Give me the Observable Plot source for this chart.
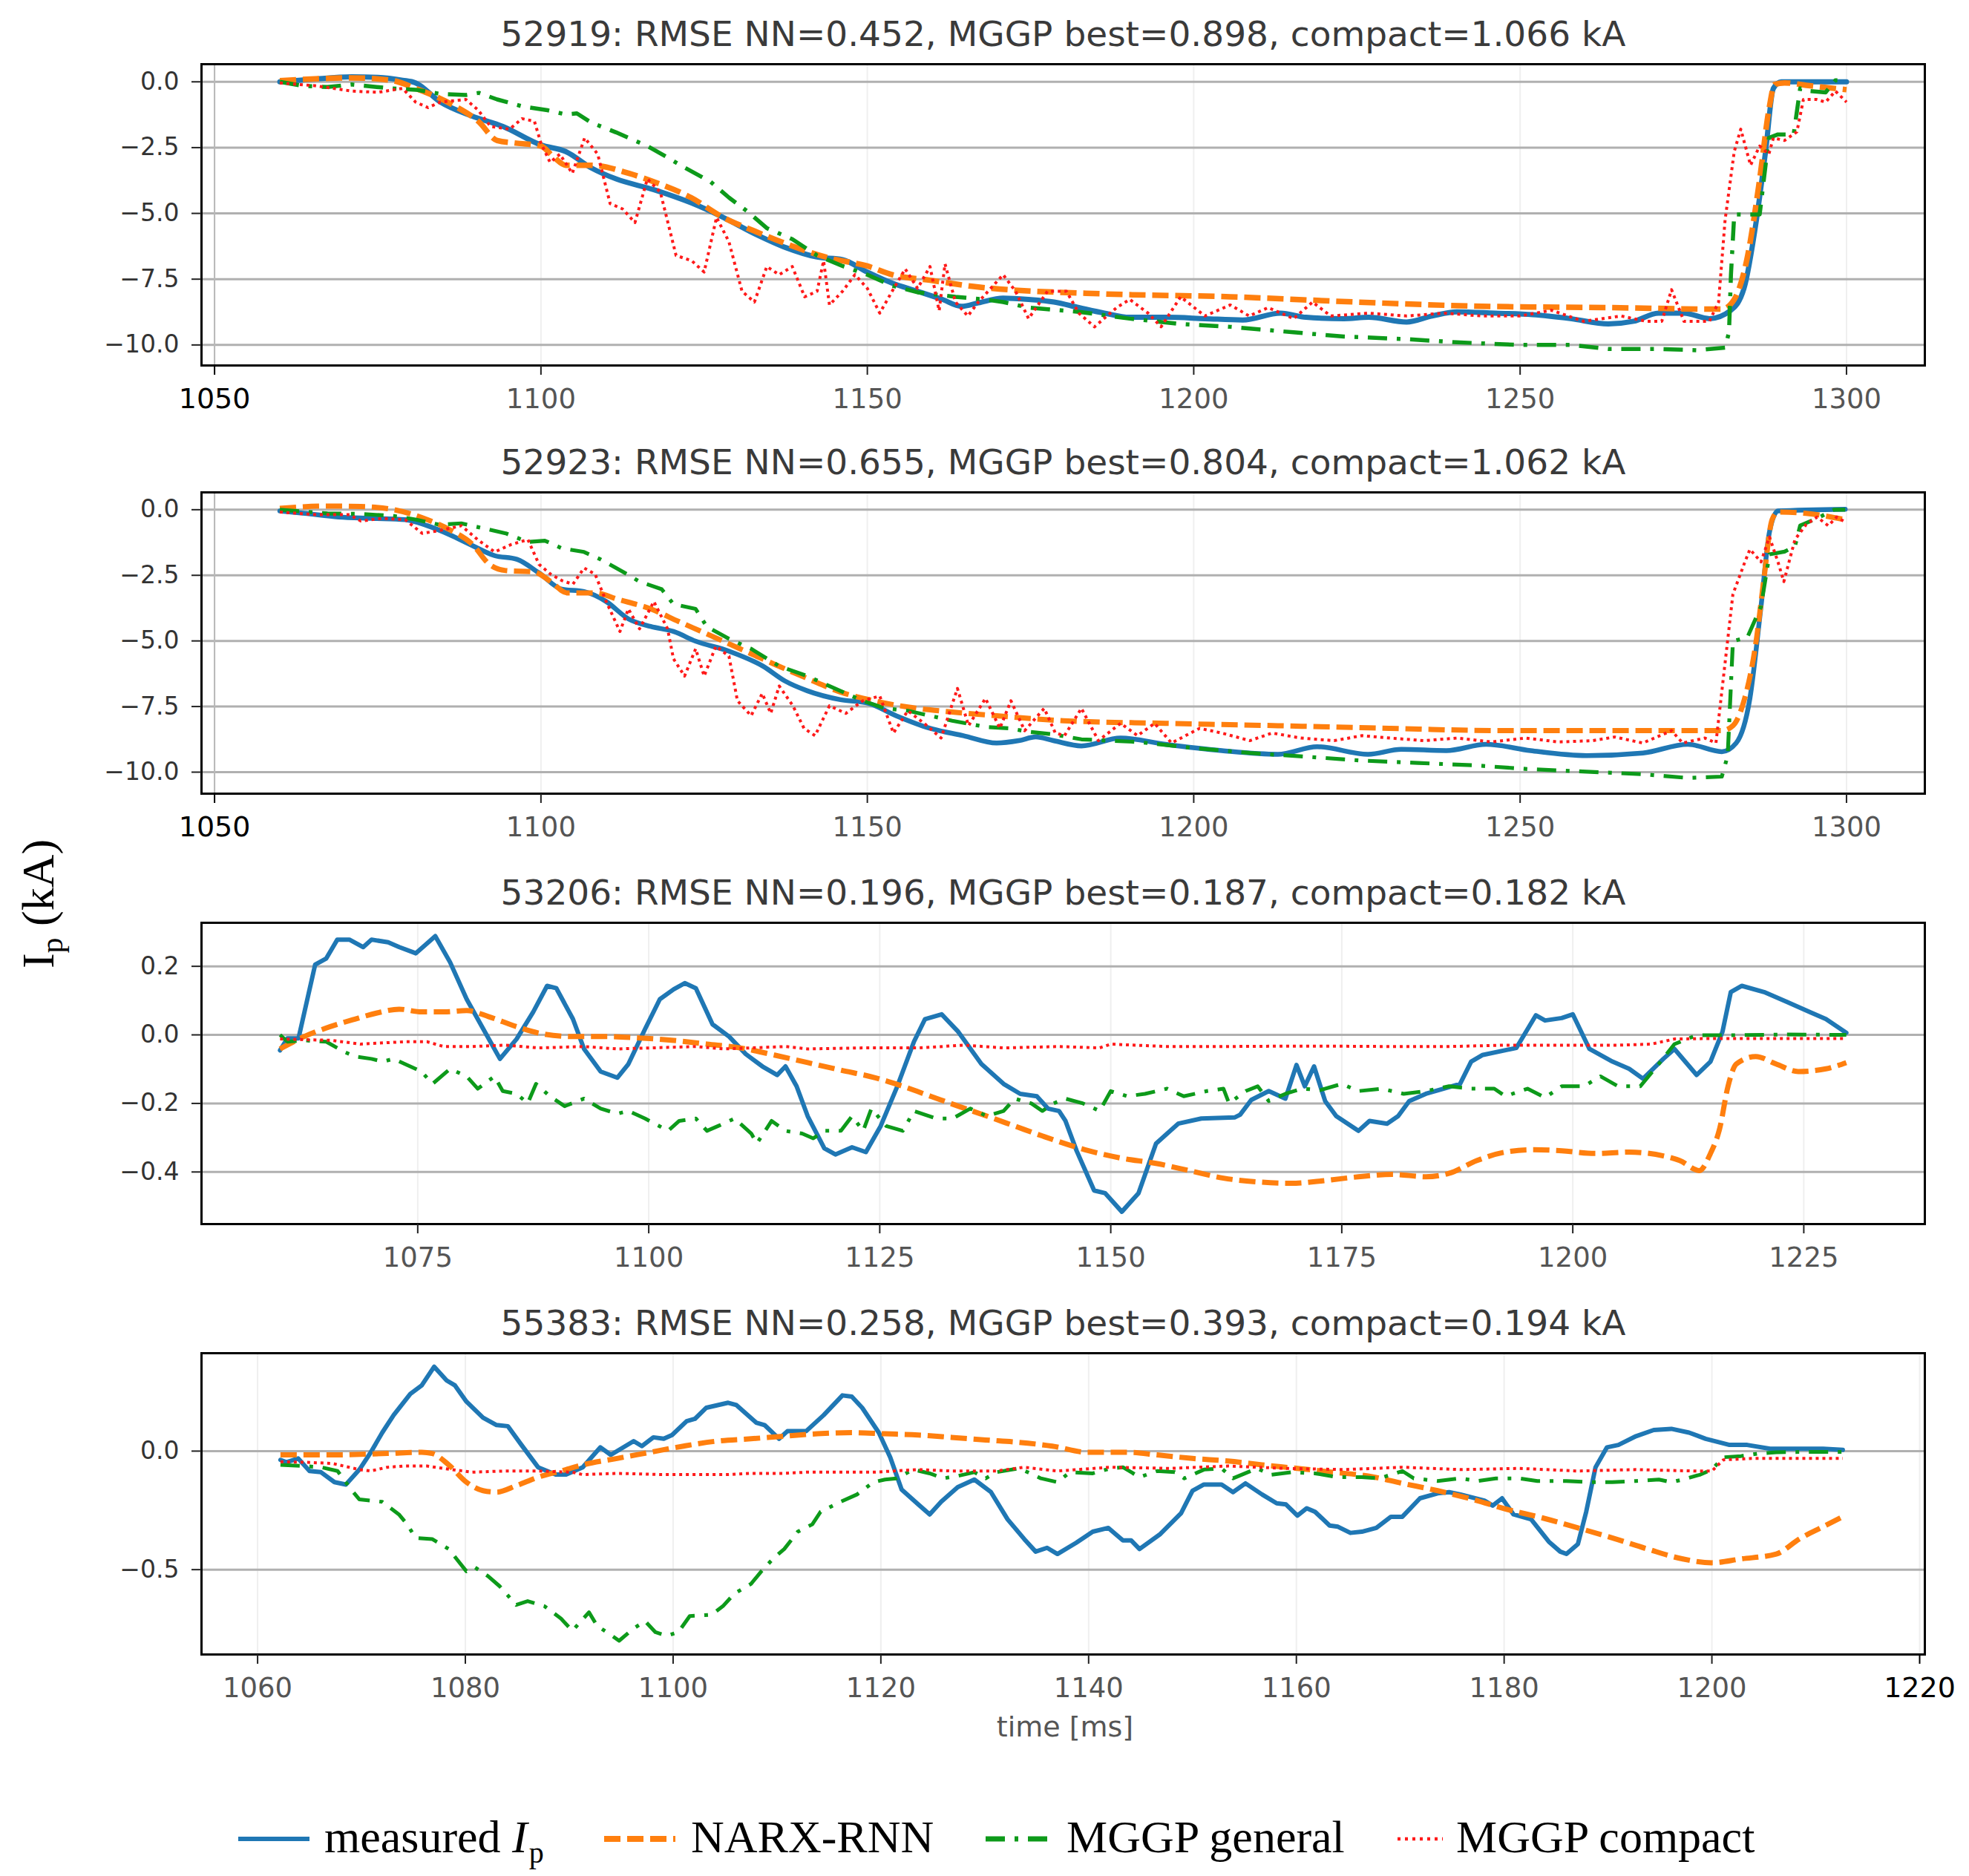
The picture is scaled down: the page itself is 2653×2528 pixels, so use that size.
<!DOCTYPE html>
<html>
<head>
<meta charset="utf-8">
<script src="https://cdn.jsdelivr.net/npm/d3@7"></script>
<script src="https://cdn.jsdelivr.net/npm/@observablehq/plot@0.6"></script>
<style>
  html, body { margin: 0; padding: 0; background: #fff; }
  #wrap { position: relative; width: 2653px; height: 2528px; background: #fff; overflow: hidden; }
  .panel { position: absolute; left: 0; }
  #overlay { position: absolute; left: 0; top: 0; pointer-events: none; }
</style>
</head>
<body>
<div id="wrap"></div>
<script>
// ---------------- DATA ----------------
// Panel titles
const titles = [
  "52919: RMSE NN=0.452, MGGP best=0.898, compact=1.066 kA",
  "52923: RMSE NN=0.655, MGGP best=0.804, compact=1.062 kA",
  "53206: RMSE NN=0.196, MGGP best=0.187, compact=0.182 kA",
  "55383: RMSE NN=0.258, MGGP best=0.393, compact=0.194 kA"
];
const seriesNames = ["measured Ip", "NARX-RNN", "MGGP general", "MGGP compact"];

// Tick values
const xTicksA = [1050, 1100, 1150, 1200, 1250, 1300];
const xTicksC = [1075, 1100, 1125, 1150, 1175, 1200, 1225];
const xTicksD = [1060, 1080, 1100, 1120, 1140, 1160, 1180, 1200, 1220];
const yTicksA = [0, -2.5, -5, -7.5, -10];
const yTicksC = [0.2, 0, -0.2, -0.4];
const yTicksD = [0, -0.5];

// Panel 1 (52919): [time ms, Ip kA]
const p1Measured = [[1060,0],[1065,0.1],[1071,0.19],[1075,0.17],[1078.8,0.06],[1080.8,-0.04],[1084.6,-0.77],[1089.4,-1.3],[1094.2,-1.7],[1100,-2.4],[1103.8,-2.65],[1107.7,-3.27],[1111.5,-3.69],[1117.3,-4.1],[1123,-4.6],[1127.9,-5.15],[1132.7,-5.77],[1137.5,-6.3],[1142.3,-6.66],[1146.2,-6.76],[1150,-7.23],[1153.8,-7.65],[1157.7,-7.96],[1161.5,-8.27],[1164.4,-8.53],[1167,-8.4],[1170.8,-8.22],[1174.7,-8.27],[1178.6,-8.37],[1182.4,-8.58],[1186.3,-8.79],[1190.2,-8.95],[1196,-8.95],[1201.7,-9.0],[1207.5,-9.05],[1213.3,-8.79],[1217.2,-8.95],[1223,-9.0],[1226.8,-8.95],[1232.6,-9.13],[1236.5,-8.9],[1240.3,-8.74],[1246.1,-8.79],[1251.9,-8.85],[1257.7,-9.0],[1263.5,-9.2],[1267.4,-9.1],[1271.2,-8.79],[1275.1,-8.79],[1279,-9.0],[1282.3,-8.68],[1284.3,-7.85],[1286.2,-5.25],[1287.6,-2.65],[1288.8,-0.25],[1290,0],[1300,0]];
const p1Narx = [[1060,0.04],[1066,0.12],[1071,0.15],[1077,0.06],[1080.8,-0.25],[1086.5,-0.88],[1090.4,-1.5],[1093.3,-2.23],[1096.2,-2.33],[1100,-2.44],[1101.9,-2.85],[1103.8,-3.17],[1107.7,-3.17],[1113.5,-3.48],[1117.3,-3.8],[1123,-4.4],[1127.9,-5.15],[1132.7,-5.67],[1138.5,-6.24],[1144.2,-6.7],[1150,-7.0],[1153.8,-7.33],[1159.6,-7.54],[1167,-7.8],[1186.3,-8.06],[1205.6,-8.17],[1224.9,-8.37],[1244.2,-8.53],[1263.5,-8.58],[1280.9,-8.64],[1282.8,-8.27],[1284.7,-6.8],[1286.7,-3.7],[1288.1,-1.08],[1289,-0.1],[1290.5,-0.04],[1294.4,-0.15],[1300,-0.3]];
const p1General = [[1060,0],[1063.5,-0.15],[1067.3,-0.2],[1071,-0.1],[1077,-0.25],[1080.8,-0.3],[1084.6,-0.46],[1088.5,-0.5],[1090.5,-0.42],[1093.3,-0.67],[1097.1,-0.93],[1101,-1.08],[1103.8,-1.24],[1105.5,-1.2],[1107.7,-1.55],[1111.5,-1.92],[1116.3,-2.44],[1119.2,-2.85],[1122.1,-3.27],[1126,-3.8],[1128.8,-4.4],[1131.7,-4.94],[1134.6,-5.56],[1138.5,-5.98],[1142.3,-6.6],[1146.2,-7.0],[1150,-7.33],[1153.8,-7.75],[1157.7,-8.0],[1163.5,-8.17],[1168,-8.27],[1170.8,-8.37],[1174.7,-8.58],[1182.4,-8.74],[1190.2,-9.0],[1197.9,-9.2],[1205.6,-9.31],[1215.3,-9.52],[1223,-9.68],[1232.6,-9.78],[1240.3,-9.9],[1250,-10.0],[1257.7,-10.0],[1263.5,-10.15],[1271.2,-10.15],[1277,-10.2],[1281.4,-10.1],[1282,-9.52],[1282.3,-7.33],[1282.8,-5.04],[1286.7,-5.04],[1288.1,-2.13],[1289.5,-2.0],[1291.9,-2.0],[1292.9,-0.25],[1294.4,-0.35],[1296.8,-0.4],[1298.3,0.06],[1300,0.05]];
const p1Compact = [[1060,-0.04],[1065.4,-0.15],[1071,-0.35],[1075,-0.4],[1078.8,-0.25],[1080.8,-0.77],[1082.7,-0.98],[1084.6,-0.77],[1088.5,-0.67],[1090.4,-1.08],[1092.3,-1.7],[1095.2,-1.8],[1097.1,-1.4],[1099,-1.5],[1100,-2.33],[1101.4,-3.06],[1102.9,-2.75],[1104.8,-3.48],[1106.7,-2.13],[1108.7,-2.75],[1110.6,-4.63],[1112.5,-4.83],[1114.4,-5.35],[1116.3,-3.69],[1118.3,-4.2],[1120.7,-6.6],[1123.1,-6.8],[1125,-7.23],[1126.9,-5.15],[1128.8,-6.08],[1130.8,-7.96],[1132.7,-8.37],[1134.6,-7.02],[1136.5,-7.33],[1138.5,-7.02],[1140.4,-8.17],[1142.3,-7.96],[1143.3,-6.8],[1144.2,-8.48],[1146.2,-7.96],[1148.1,-7.33],[1150,-7.85],[1151.9,-8.79],[1153.8,-7.96],[1155.8,-7.11],[1157.7,-7.85],[1159.6,-7.02],[1161,-8.7],[1161.9,-6.92],[1163.5,-8.37],[1165.4,-8.9],[1167,-8.37],[1170.8,-7.33],[1172.7,-7.96],[1174.7,-9.0],[1177.6,-7.96],[1180.5,-7.96],[1182.4,-8.79],[1184.8,-9.31],[1188.2,-8.58],[1190.2,-8.27],[1193,-8.79],[1195,-9.31],[1198,-8.17],[1201.7,-8.9],[1205.6,-8.48],[1208.5,-8.9],[1211.4,-8.58],[1215.3,-9.0],[1218.2,-8.37],[1221,-8.9],[1226.8,-8.79],[1232.6,-8.9],[1238.4,-8.79],[1244.2,-8.9],[1250,-8.9],[1254.8,-8.68],[1259.7,-9.1],[1265.5,-8.9],[1269.3,-9.1],[1271.7,-9.1],[1273.2,-7.9],[1275.1,-9.1],[1279,-9.1],[1280.4,-8.37],[1281.4,-5.25],[1282.8,-2.65],[1283.8,-1.8],[1285.3,-3.17],[1286.7,-2.44],[1288.1,-2.75],[1288.8,-2.13],[1290.5,-2.23],[1292.4,-1.9],[1293.4,-0.67],[1295.4,-0.67],[1296.8,-0.77],[1298.3,-0.35],[1300,-0.77]];

// Panel 2 (52923)
const p2Measured = [[1060,-0.05],[1063.8,-0.14],[1069,-0.28],[1074.1,-0.33],[1079.2,-0.38],[1082.6,-0.61],[1086,-0.95],[1089.5,-1.37],[1092.9,-1.75],[1096.3,-1.89],[1099.7,-2.41],[1103.2,-3.03],[1106.6,-3.12],[1110,-3.5],[1113.4,-4.16],[1116.8,-4.45],[1120.3,-4.64],[1123.7,-5.01],[1128.8,-5.39],[1134,-5.96],[1137.4,-6.53],[1140.8,-6.9],[1145.9,-7.24],[1150.2,-7.38],[1154.4,-7.85],[1159.6,-8.33],[1164.7,-8.61],[1169.8,-8.89],[1173.2,-8.8],[1175.8,-8.66],[1178.5,-8.8],[1182.8,-9.0],[1188.8,-8.7],[1195.7,-8.94],[1204.3,-9.18],[1212.9,-9.32],[1218.9,-9.03],[1226.7,-9.32],[1231.8,-9.13],[1238.7,-9.18],[1244.8,-8.94],[1251.6,-9.18],[1260.2,-9.37],[1268.8,-9.27],[1275.7,-8.94],[1280.9,-9.22],[1283.1,-8.89],[1285.2,-7.19],[1286.9,-3.69],[1288.2,-0.85],[1289.5,-0.05],[1299.8,0.02]];
const p2Narx = [[1060,0.05],[1067.3,0.14],[1072.4,0.12],[1077.5,0],[1082.6,-0.38],[1086,-0.76],[1089.5,-1.32],[1092.1,-2.08],[1094.6,-2.32],[1098.9,-2.37],[1101.5,-2.74],[1104,-3.17],[1108.3,-3.17],[1111.7,-3.41],[1116.8,-3.78],[1121.1,-4.26],[1125.4,-4.73],[1130.5,-5.3],[1135.6,-5.87],[1140.8,-6.43],[1145.9,-6.95],[1151,-7.28],[1156.2,-7.52],[1163,-7.71],[1169.8,-7.85],[1180,-8.04],[1195.7,-8.14],[1212.9,-8.23],[1230.1,-8.33],[1247.3,-8.42],[1264.5,-8.42],[1280.9,-8.42],[1282.6,-8.23],[1284.3,-7.28],[1286.1,-5.11],[1287.3,-2.74],[1288.6,-0.38],[1289.5,-0.09],[1293.8,-0.14],[1299.8,-0.38]];
const p2General = [[1060,0],[1067.3,-0.14],[1072.4,-0.16],[1077.5,-0.24],[1080.9,-0.38],[1084.4,-0.57],[1087.8,-0.52],[1091.2,-0.71],[1094.6,-0.9],[1098,-1.23],[1100.6,-1.18],[1103.2,-1.47],[1106.6,-1.61],[1109.1,-1.89],[1112.6,-2.37],[1115.1,-2.74],[1118.5,-3.03],[1120.3,-3.6],[1123.7,-3.78],[1125.4,-4.45],[1128.8,-4.92],[1132.2,-5.3],[1136.5,-5.96],[1140.8,-6.34],[1145,-6.81],[1149.3,-7.28],[1152.7,-7.57],[1156.2,-7.66],[1159.6,-7.85],[1163,-8.04],[1168.2,-8.28],[1171.6,-8.33],[1175,-8.47],[1178.4,-8.56],[1182.8,-8.75],[1191.4,-8.85],[1200,-9.08],[1208.6,-9.27],[1217.2,-9.41],[1225.8,-9.56],[1234.4,-9.65],[1243,-9.74],[1251.6,-9.89],[1260.2,-9.98],[1268.8,-10.08],[1275.7,-10.22],[1280.9,-10.17],[1281.8,-9.37],[1282.6,-5.01],[1284.8,-4.87],[1286.9,-3.69],[1288.2,-1.7],[1290.5,-1.6],[1292.1,-1.4],[1292.9,-0.6],[1295.5,-0.33],[1298.1,0],[1299.8,0]];
const p2Compact = [[1060,-0.09],[1065.6,-0.19],[1070.7,-0.19],[1072.4,-0.43],[1075.8,-0.33],[1079.2,-0.38],[1081.8,-0.9],[1084.4,-0.8],[1087.8,-0.61],[1090.3,-1.14],[1092.9,-1.61],[1095.5,-1.32],[1098,-1.14],[1099.7,-2.08],[1101.5,-2.46],[1103.2,-2.7],[1104.9,-2.84],[1106.6,-2.22],[1108.3,-2.46],[1110,-3.5],[1112.1,-4.64],[1113.4,-3.78],[1115.1,-4.54],[1117.3,-3.5],[1119.4,-4.54],[1120.3,-5.68],[1122,-6.34],[1123.7,-5.3],[1125,-6.34],[1126.8,-5.2],[1128.8,-5.58],[1130.1,-7.28],[1132.2,-7.85],[1133.9,-7.0],[1135.2,-7.76],[1136.5,-6.72],[1138.6,-7.47],[1140.3,-8.33],[1142,-8.61],[1144.2,-7.47],[1146.7,-7.76],[1149.3,-7.28],[1151.9,-7.1],[1154,-8.51],[1156.2,-7.66],[1158.7,-8.14],[1161.3,-8.7],[1163.8,-6.81],[1165.5,-8.23],[1168.1,-7.19],[1170.3,-8.33],[1172,-7.28],[1174.1,-8.42],[1177.1,-7.57],[1178.8,-8.51],[1180.2,-8.61],[1182.8,-7.57],[1185.4,-8.8],[1188.8,-8.14],[1191.4,-8.61],[1194,-8.14],[1196.6,-8.89],[1200.9,-8.33],[1204.3,-8.51],[1208.6,-8.8],[1212,-8.51],[1216.4,-8.7],[1221.5,-8.8],[1225.8,-8.61],[1230.1,-8.7],[1235.3,-8.8],[1240.4,-8.7],[1245.6,-8.85],[1250.8,-8.7],[1255.9,-8.85],[1261.1,-8.8],[1264.5,-8.66],[1268.8,-8.89],[1273.2,-8.42],[1274.9,-8.89],[1278.3,-8.7],[1280,-8.89],[1281.3,-6.05],[1282.6,-3.22],[1284.3,-2.08],[1285.2,-1.51],[1286.9,-1.99],[1288.2,-1.04],[1289.5,-1.99],[1290.4,-2.74],[1292.1,-1.14],[1293.8,-0.57],[1295.5,-0.28],[1297.2,-0.61],[1298.5,-0.28],[1299.8,-0.47]];

// Panel 3 (53206)
const p3Measured = [[1060.1,-0.045],[1060.9,-0.01],[1062.1,-0.01],[1063.9,0.205],[1065.1,0.223],[1066.3,0.278],[1067.6,0.278],[1069.1,0.256],[1070,0.278],[1071.8,0.27],[1073,0.256],[1074.8,0.238],[1076.9,0.288],[1078.5,0.212],[1080.3,0.104],[1082.1,0.017],[1083.9,-0.07],[1085.7,-0.012],[1087.5,0.067],[1089,0.143],[1090,0.136],[1091.8,0.046],[1093,-0.041],[1094.8,-0.107],[1096.6,-0.125],[1097.8,-0.085],[1099.6,0.017],[1101.2,0.104],[1102.7,0.133],[1103.9,0.151],[1105.1,0.136],[1106.9,0.031],[1108.7,-0.005],[1110.5,-0.056],[1112.3,-0.092],[1113.9,-0.117],[1114.8,-0.092],[1116,-0.15],[1117.2,-0.237],[1119,-0.331],[1120.2,-0.349],[1122,-0.328],[1123.5,-0.342],[1125.1,-0.266],[1126.9,-0.15],[1128.7,-0.02],[1129.9,0.046],[1131.7,0.06],[1133.5,0.009],[1136,-0.085],[1138.4,-0.143],[1140.2,-0.172],[1142,-0.179],[1143.2,-0.215],[1144.4,-0.222],[1145.1,-0.251],[1146.3,-0.338],[1148.2,-0.454],[1149.4,-0.462],[1151.2,-0.516],[1153,-0.462],[1154.9,-0.317],[1157.3,-0.259],[1159.8,-0.244],[1163.4,-0.241],[1164,-0.233],[1165.2,-0.19],[1167.1,-0.164],[1168.9,-0.186],[1170.1,-0.088],[1171,-0.15],[1172,-0.092],[1173.2,-0.193],[1174.4,-0.237],[1176.8,-0.28],[1178,-0.251],[1179.9,-0.259],[1181.1,-0.237],[1182.3,-0.193],[1184.1,-0.172],[1186,-0.157],[1187.8,-0.143],[1189,-0.078],[1190.2,-0.059],[1193.9,-0.038],[1196,0.057],[1197,0.042],[1198.8,0.049],[1200,0.06],[1201.8,-0.041],[1204.3,-0.078],[1206.1,-0.099],[1207.6,-0.128],[1209.8,-0.07],[1211,-0.041],[1213.4,-0.117],[1214.9,-0.078],[1216.2,0.009],[1217.1,0.125],[1218.3,0.143],[1220.7,0.125],[1223.2,0.096],[1225.6,0.067],[1227.4,0.046],[1229.6,0.006]];
const p3Narx = [[1060.1,-0.041],[1062.7,-0.005],[1065.1,0.02],[1068.2,0.046],[1070.6,0.064],[1073,0.075],[1075.4,0.067],[1077.8,0.067],[1080.3,0.071],[1082.7,0.053],[1085.7,0.024],[1088.7,0.002],[1091.8,-0.005],[1095.4,-0.005],[1099,-0.009],[1102.7,-0.016],[1106.3,-0.027],[1109.9,-0.038],[1113.6,-0.059],[1117.2,-0.081],[1120.8,-0.103],[1124.5,-0.125],[1127.5,-0.15],[1130.5,-0.179],[1133.5,-0.208],[1136.6,-0.237],[1139.6,-0.266],[1142.6,-0.295],[1147.6,-0.338],[1151.2,-0.36],[1154.9,-0.375],[1158.5,-0.396],[1162.2,-0.418],[1165.9,-0.429],[1169.5,-0.433],[1173.2,-0.425],[1176.8,-0.414],[1180.5,-0.407],[1184.1,-0.414],[1186.6,-0.404],[1189.6,-0.367],[1192.7,-0.342],[1195.7,-0.335],[1198.8,-0.338],[1202.4,-0.346],[1206.1,-0.342],[1209.8,-0.353],[1211.6,-0.367],[1213.7,-0.396],[1214.9,-0.346],[1215.9,-0.273],[1216.8,-0.15],[1217.7,-0.085],[1219.8,-0.063],[1222,-0.085],[1224.4,-0.107],[1227.4,-0.099],[1229.6,-0.081]];
const p3General = [[1060.1,0],[1060.9,-0.02],[1062.7,-0.016],[1065.1,-0.02],[1067,-0.049],[1068.2,-0.063],[1070,-0.07],[1071.2,-0.078],[1072.4,-0.07],[1073.6,-0.085],[1075.4,-0.107],[1076.6,-0.143],[1078.5,-0.099],[1080.3,-0.121],[1081.5,-0.157],[1083.3,-0.121],[1084.2,-0.164],[1085.7,-0.172],[1086.9,-0.2],[1087.8,-0.143],[1089.3,-0.179],[1090.9,-0.208],[1093,-0.186],[1094.8,-0.215],[1096.6,-0.23],[1097.8,-0.222],[1099.6,-0.244],[1102.1,-0.28],[1103.3,-0.251],[1105.1,-0.244],[1106.3,-0.28],[1107.5,-0.266],[1109.3,-0.244],[1111.1,-0.288],[1111.7,-0.317],[1113.3,-0.251],[1114.8,-0.28],[1116.6,-0.288],[1117.8,-0.302],[1119,-0.28],[1120.8,-0.28],[1122,-0.237],[1123.2,-0.28],[1124.1,-0.215],[1125.7,-0.266],[1127.5,-0.28],[1128.7,-0.222],[1131.1,-0.244],[1132.9,-0.244],[1134.8,-0.215],[1136.6,-0.237],[1138.4,-0.222],[1139.6,-0.186],[1141.4,-0.2],[1142.6,-0.222],[1143.8,-0.2],[1145.1,-0.186],[1147,-0.2],[1148.8,-0.222],[1150,-0.164],[1151.8,-0.179],[1153.7,-0.172],[1156.1,-0.157],[1157.9,-0.179],[1160.4,-0.164],[1162.2,-0.157],[1162.8,-0.2],[1164.6,-0.164],[1165.9,-0.15],[1167.1,-0.193],[1168.9,-0.172],[1170.7,-0.157],[1172.7,-0.161],[1175,-0.143],[1176.8,-0.164],[1179.3,-0.157],[1181.7,-0.172],[1184.1,-0.164],[1186.6,-0.15],[1189,-0.157],[1191.5,-0.157],[1192.7,-0.179],[1195.1,-0.157],[1197,-0.183],[1198.8,-0.15],[1201.2,-0.15],[1203,-0.121],[1204.9,-0.15],[1207.3,-0.15],[1209.1,-0.092],[1211,-0.027],[1213.4,-0.001],[1217.1,-0.001],[1223.2,0.001],[1229.6,0]];
const p3Compact = [[1060.1,-0.012],[1065.7,-0.016],[1068.8,-0.027],[1073.6,-0.02],[1076,-0.02],[1077.8,-0.034],[1080.9,-0.034],[1084.5,-0.03],[1088.1,-0.038],[1093,-0.034],[1096.6,-0.041],[1100.2,-0.038],[1105.1,-0.034],[1108.1,-0.041],[1111.1,-0.038],[1114.8,-0.034],[1117.2,-0.041],[1123.2,-0.038],[1129.3,-0.038],[1134.1,-0.03],[1138.4,-0.038],[1144.4,-0.034],[1148.8,-0.038],[1150,-0.027],[1156.1,-0.034],[1162.2,-0.034],[1168.3,-0.033],[1174.4,-0.033],[1180.5,-0.034],[1186.6,-0.034],[1192.7,-0.03],[1198.8,-0.03],[1204.9,-0.03],[1208.5,-0.027],[1211,-0.012],[1214,-0.011],[1223.2,-0.011],[1229.6,-0.011]];

// Panel 4 (55383)
const p4Measured = [[1062.2,-0.037],[1062.8,-0.047],[1063.9,-0.031],[1065,-0.084],[1066.1,-0.089],[1067.4,-0.131],[1068.5,-0.141],[1069.8,-0.078],[1070.9,-0.005],[1072,0.078],[1073.1,0.152],[1074.7,0.241],[1075.8,0.277],[1077,0.356],[1078.2,0.298],[1079,0.277],[1080.1,0.209],[1081.7,0.141],[1083,0.11],[1084.1,0.105],[1085.4,0.026],[1087,-0.068],[1088.7,-0.099],[1089.7,-0.099],[1091.3,-0.068],[1093,0.016],[1094,-0.016],[1096.2,0.042],[1097,0.021],[1098.1,0.058],[1099.1,0.052],[1099.9,0.068],[1101.3,0.126],[1102.1,0.136],[1103.2,0.183],[1105.3,0.204],[1106.1,0.194],[1108,0.12],[1108.8,0.11],[1110.2,0.052],[1111,0.084],[1112.8,0.084],[1114.5,0.152],[1116.3,0.235],[1117.2,0.23],[1118.2,0.183],[1119.8,0.078],[1120.9,-0.026],[1122,-0.162],[1123.6,-0.225],[1124.7,-0.267],[1125.8,-0.214],[1127.4,-0.152],[1129,-0.12],[1130.6,-0.173],[1132.2,-0.288],[1133.8,-0.371],[1134.9,-0.424],[1136,-0.408],[1137,-0.434],[1138.8,-0.387],[1140.4,-0.34],[1141.9,-0.324],[1143.3,-0.377],[1144.1,-0.377],[1144.9,-0.413],[1146.9,-0.35],[1148.9,-0.262],[1150,-0.167],[1151.1,-0.141],[1152.8,-0.141],[1153.9,-0.173],[1155.1,-0.136],[1156.7,-0.183],[1158.1,-0.22],[1159,-0.225],[1160.1,-0.272],[1161,-0.241],[1161.8,-0.256],[1163.2,-0.314],[1164,-0.319],[1165.2,-0.345],[1166.3,-0.34],[1167.7,-0.324],[1169.1,-0.277],[1170.2,-0.277],[1171.9,-0.199],[1173.6,-0.178],[1174.7,-0.173],[1175.8,-0.183],[1178.1,-0.209],[1178.9,-0.23],[1179.8,-0.199],[1180.9,-0.267],[1182.6,-0.288],[1184.3,-0.382],[1185.4,-0.424],[1186,-0.434],[1187.1,-0.392],[1187.9,-0.256],[1188.8,-0.068],[1189.9,0.016],[1191,0.026],[1192.7,0.063],[1194.4,0.089],[1196.1,0.094],[1197.8,0.078],[1199.4,0.052],[1201.7,0.026],[1203.4,0.026],[1205.6,0.01],[1208.4,0.01],[1210.7,0.01],[1212.6,0.005]];
const p4Narx = [[1062.2,-0.016],[1067,-0.016],[1072.5,-0.01],[1075.8,-0.005],[1076.8,-0.01],[1078.4,-0.058],[1080.1,-0.131],[1081.7,-0.167],[1083,-0.173],[1084.9,-0.146],[1087,-0.11],[1089.2,-0.084],[1091.3,-0.058],[1094.6,-0.031],[1097.8,-0.005],[1101,0.021],[1104.2,0.042],[1107.5,0.052],[1110.7,0.063],[1113.9,0.073],[1117.2,0.078],[1120.4,0.073],[1123.6,0.068],[1126.8,0.058],[1130.1,0.047],[1133.3,0.037],[1136.5,0.021],[1139.9,-0.005],[1143.8,-0.005],[1146.6,-0.016],[1150,-0.031],[1153.4,-0.042],[1156.7,-0.058],[1160.1,-0.073],[1163.5,-0.089],[1166.9,-0.105],[1170.2,-0.136],[1173.6,-0.167],[1177,-0.204],[1180.3,-0.246],[1183.7,-0.282],[1187.1,-0.324],[1190.4,-0.366],[1193.8,-0.413],[1197.2,-0.455],[1200,-0.471],[1202.8,-0.455],[1206.2,-0.434],[1208.4,-0.371],[1210.7,-0.319],[1212.6,-0.277]];
const p4General = [[1062.2,-0.058],[1064.5,-0.063],[1066.1,-0.068],[1067.7,-0.084],[1069,-0.162],[1069.8,-0.204],[1072,-0.214],[1073.6,-0.267],[1074.4,-0.309],[1075.2,-0.366],[1076.8,-0.371],[1078.4,-0.413],[1080.1,-0.507],[1080.9,-0.49],[1082.2,-0.528],[1083.3,-0.57],[1084.9,-0.649],[1086,-0.633],[1087.6,-0.654],[1089.2,-0.706],[1090.3,-0.758],[1091.9,-0.68],[1092.7,-0.738],[1093.8,-0.769],[1094.8,-0.8],[1096.2,-0.748],[1097.3,-0.717],[1098.3,-0.764],[1099.4,-0.779],[1100.5,-0.764],[1101.6,-0.696],[1103.7,-0.69],[1104.8,-0.654],[1105.9,-0.601],[1107.5,-0.56],[1108.5,-0.507],[1109.6,-0.455],[1110.7,-0.413],[1112,-0.34],[1113.4,-0.309],[1114.2,-0.256],[1116.1,-0.214],[1117.7,-0.183],[1119.3,-0.131],[1120.4,-0.12],[1121.5,-0.115],[1123.1,-0.078],[1124.7,-0.094],[1126,-0.115],[1127.4,-0.105],[1129,-0.089],[1130.1,-0.115],[1131.1,-0.089],[1133.3,-0.073],[1134.4,-0.094],[1135.4,-0.115],[1137,-0.131],[1138.2,-0.089],[1140.4,-0.094],[1142.1,-0.073],[1143.3,-0.068],[1144.9,-0.11],[1146.6,-0.084],[1148.3,-0.089],[1149.2,-0.115],[1151.1,-0.078],[1152.8,-0.073],[1153.9,-0.115],[1156.2,-0.073],[1157.6,-0.1],[1159.6,-0.089],[1161.8,-0.094],[1164,-0.11],[1166.3,-0.11],[1168,-0.115],[1170.2,-0.084],[1171.3,-0.115],[1173.6,-0.126],[1175.8,-0.115],[1177.5,-0.126],[1179.2,-0.115],[1181.5,-0.115],[1183.2,-0.126],[1186,-0.126],[1188.2,-0.131],[1190.4,-0.131],[1192.7,-0.126],[1194.9,-0.12],[1196.1,-0.131],[1197.2,-0.12],[1198.9,-0.099],[1200,-0.078],[1201.1,-0.026],[1202.8,-0.021],[1204.5,-0.01],[1206.2,-0.005],[1209.6,-0.003],[1212.6,-0.003]];
const p4Compact = [[1062.2,-0.045],[1064.5,-0.047],[1067.2,-0.052],[1069.8,-0.078],[1070.9,-0.084],[1072.5,-0.068],[1074.1,-0.063],[1076.3,-0.063],[1077.9,-0.073],[1080.6,-0.089],[1083.8,-0.084],[1087,-0.084],[1090.3,-0.089],[1091.3,-0.099],[1094.6,-0.094],[1098.9,-0.099],[1102.1,-0.099],[1105.3,-0.099],[1107.5,-0.094],[1110.7,-0.094],[1112.8,-0.089],[1116.1,-0.089],[1119.3,-0.089],[1123.6,-0.078],[1126.8,-0.084],[1131.1,-0.084],[1133.8,-0.068],[1137,-0.084],[1142.1,-0.068],[1147.8,-0.073],[1153.4,-0.063],[1159,-0.073],[1164.6,-0.078],[1170.2,-0.068],[1175.8,-0.078],[1181.5,-0.073],[1187.1,-0.084],[1192.7,-0.078],[1198.3,-0.084],[1200,-0.084],[1201.1,-0.037],[1203.9,-0.031],[1209.6,-0.031],[1212.6,-0.031]];

// ---------------- STYLES ----------------
const COLORS = ["#1f77b4", "#ff7f0e", "#0d9a1a", "#ff1a1a"];
const DASH = [null, "22,9", "26,13,5,13", "4,5"];

const panels = [
  {top: 0, title: titles[0], xDomain: [1048, 1312], yDomain: [-10.78, 0.67], xTicks: xTicksA, darkX: 1050, yTicks: yTicksA,
   series: [p1Measured, p1Narx, p1General, p1Compact], widths: [7, 7.5, 5.5, 4], smooth: true, rule: 1050},
  {top: 577, title: titles[1], xDomain: [1048, 1312], yDomain: [-10.82, 0.66], xTicks: xTicksA, darkX: 1050, yTicks: yTicksA,
   series: [p2Measured, p2Narx, p2General, p2Compact], widths: [6.5, 7, 5.2, 4], smooth: true, rule: 1050},
  {top: 1157, title: titles[2], xDomain: [1051.6, 1238.1], yDomain: [-0.552, 0.327], xTicks: xTicksC, darkX: null, yTicks: yTicksC,
   series: [p3Measured, p3Narx, p3General, p3Compact], widths: [6, 7, 5, 4], smooth: false, rule: null},
  {top: 1737, title: titles[3], xDomain: [1054.6, 1220.5], yDomain: [-0.858, 0.413], xTicks: xTicksD, darkX: 1220, yTicks: yTicksD,
   series: [p4Measured, p4Narx, p4General, p4Compact], widths: [6, 7, 5, 4], smooth: false, rule: null}
];

const wrap = document.getElementById("wrap");
const fmtY = d3.format(".1f");

panels.forEach(p => {
  const lines = p.series.map((data, i) => Plot.line(data, {
    x: d => d[0], y: d => d[1],
    stroke: COLORS[i],
    strokeWidth: p.widths[i],
    strokeDasharray: DASH[i] || undefined,
    strokeLinejoin: "round",
    strokeLinecap: i === 0 ? "round" : "butt",
    curve: (i === 1 || (i === 0 && p.smooth)) ? "monotone-x" : "linear"
  }));
  const greyTicks = p.xTicks.filter(t => t !== p.darkX);
  const marks = [
    Plot.gridX(p.xTicks, {stroke: "#efefef", strokeWidth: 2, strokeOpacity: 1}),
    Plot.gridY(p.yTicks, {stroke: "#b0b0b0", strokeWidth: 3, strokeOpacity: 1}),
  ];
  if (p.rule != null) marks.push(Plot.ruleX([p.rule], {stroke: "#b8b8b8", strokeWidth: 2}));
  marks.push(...lines);
  marks.push(
    Plot.frame({stroke: "#000", strokeWidth: 3}),
    Plot.axisX(greyTicks, {tickSize: 13, tickPadding: 18, fontSize: 37, stroke: "#222", strokeWidth: 2, fill: "#555",
      tickFormat: d => String(d), label: null}),
    Plot.axisY(p.yTicks, {tickSize: 13, tickPadding: 17, fontSize: 33, stroke: "#222", strokeWidth: 2, fill: "#333",
      tickFormat: fmtY, label: null}),
    Plot.text([p.title], {frameAnchor: "top", dy: -25, lineAnchor: "bottom", fontSize: 47, fill: "#3a3a3a", text: d => d})
  );
  if (p.darkX != null) {
    marks.push(Plot.axisX([p.darkX], {tickSize: 13, tickPadding: 18, fontSize: 38, stroke: "#000", strokeWidth: 2, fill: "#000",
      tickFormat: d => String(d), label: null}));
  }
  const chart = Plot.plot({
    width: 2653, height: 580,
    marginLeft: 271, marginRight: 60, marginTop: 86, marginBottom: 88,
    style: {background: "transparent", fontFamily: "'DejaVu Sans', sans-serif", overflow: "visible"},
    x: {domain: p.xDomain},
    y: {domain: p.yDomain},
    marks
  });
  chart.classList.add("panel");
  chart.style.top = p.top + "px";
  wrap.appendChild(chart);
});

// ---------------- overlay: y label, x label, legend ----------------
const NS = "http://www.w3.org/2000/svg";
const ov = document.createElementNS(NS, "svg");
ov.setAttribute("id", "overlay");
ov.setAttribute("width", 2653);
ov.setAttribute("height", 2528);
wrap.appendChild(ov);
const ovs = d3.select(ov);

// y label
const yl = ovs.append("text")
  .attr("transform", "translate(72,1218) rotate(-90)")
  .attr("text-anchor", "middle")
  .attr("font-family", "'Liberation Serif', 'DejaVu Serif', serif")
  .attr("font-size", 62)
  .attr("fill", "#000");
yl.append("tspan").text("I");
yl.append("tspan").attr("font-size", 42).attr("dy", 12).text("p");
yl.append("tspan").attr("dy", -12).text(" (kA)");

// x label
ovs.append("text")
  .attr("x", 1435).attr("y", 2340)
  .attr("text-anchor", "middle")
  .attr("font-family", "'DejaVu Sans', sans-serif")
  .attr("font-size", 38)
  .attr("fill", "#555")
  .text("time [ms]");

// legend
const legendItems = [
  {x1: 321, x2: 417, tx: 437, w: 6},
  {x1: 814, x2: 910, tx: 931, w: 8},
  {x1: 1328, x2: 1417, tx: 1437, w: 7},
  {x1: 1883, x2: 1944, tx: 1962, w: 4.5}
];
const legendDash = [null, "22,9", "26,13,5,13", "4,6"];
legendItems.forEach((it, i) => {
  ovs.append("line")
    .attr("x1", it.x1).attr("x2", it.x2).attr("y1", 2478).attr("y2", 2478)
    .attr("stroke", COLORS[i]).attr("stroke-width", it.w)
    .attr("stroke-dasharray", legendDash[i]);
  const t = ovs.append("text")
    .attr("x", it.tx).attr("y", 2496)
    .attr("font-family", "'Liberation Serif', 'DejaVu Serif', serif")
    .attr("font-size", 62)
    .attr("fill", "#000");
  if (i === 0) {
    t.append("tspan").text("measured ");
    t.append("tspan").attr("font-style", "italic").text("I");
    t.append("tspan").attr("font-size", 40).attr("dy", 14).attr("dx", 2).text("p");
  } else {
    t.text(seriesNames[i]);
  }
});
</script>
</body>
</html>
